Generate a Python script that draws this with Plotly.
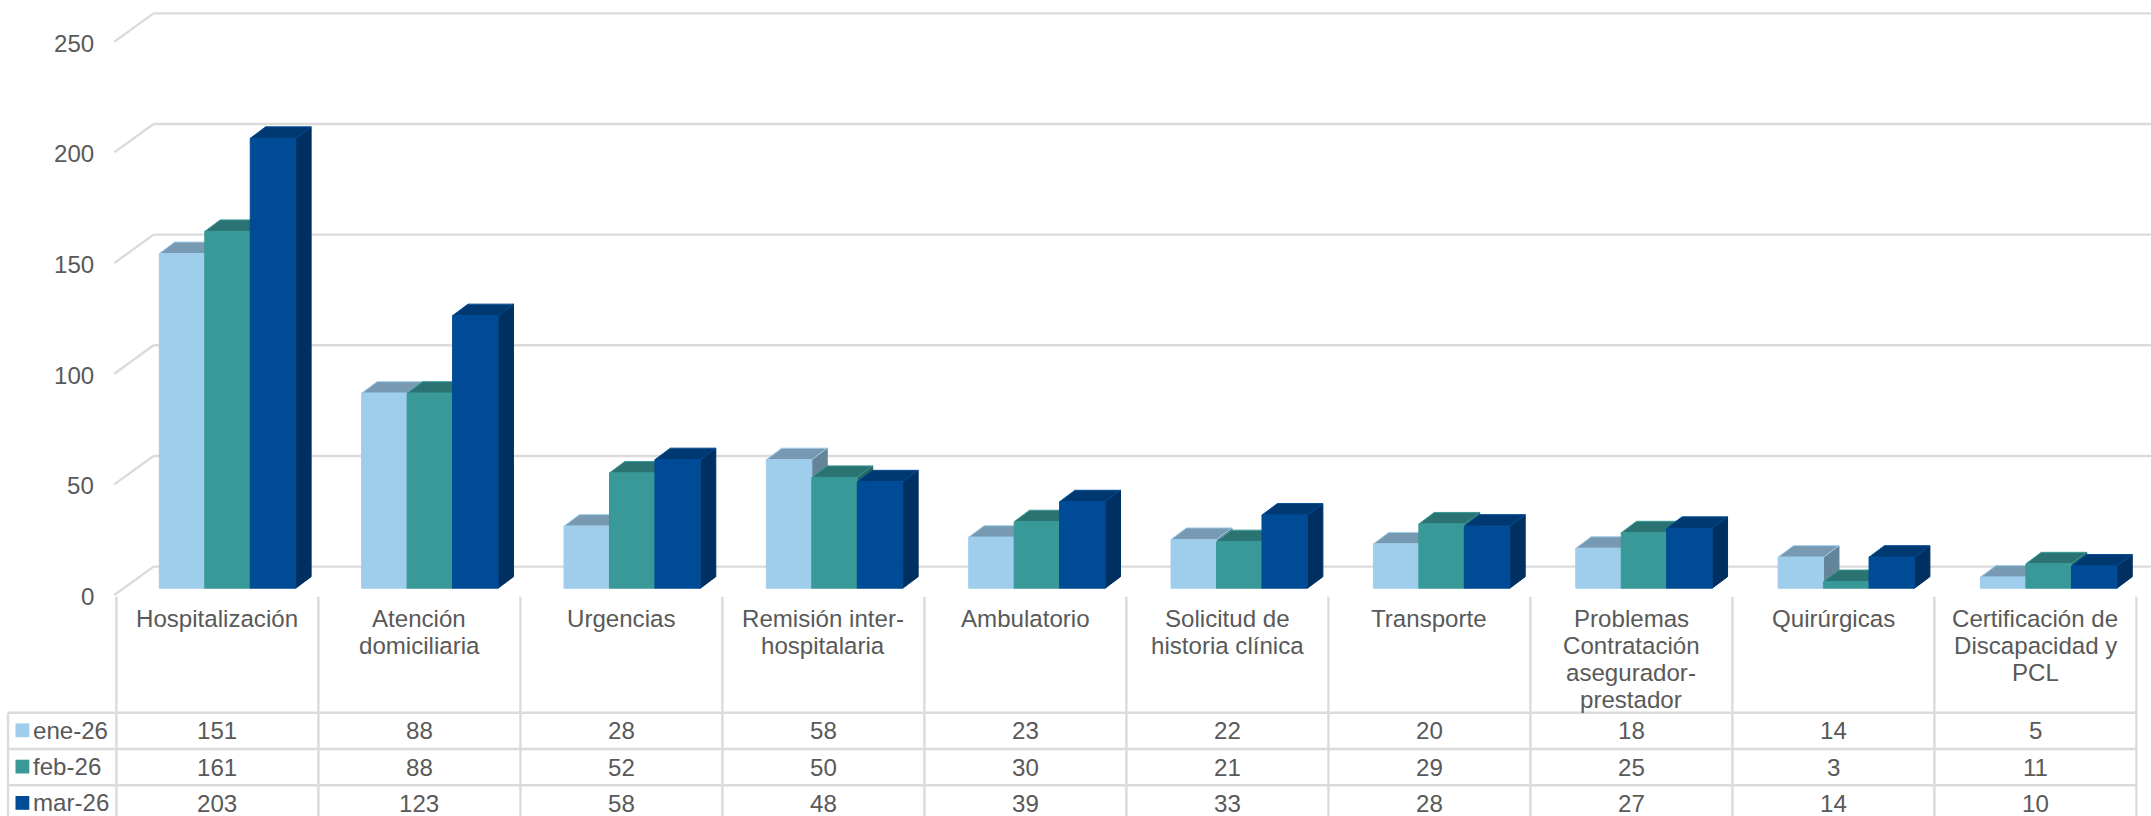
import plotly.graph_objects as go

categories = ["Hospitalización", "Atención\ndomiciliaria", "Urgencias", "Remisión inter-\nhospitalaria",
              "Ambulatorio", "Solicitud de\nhistoria clínica", "Transporte",
              "Problemas\nContratación\nasegurador-\nprestador", "Quirúrgicas",
              "Certificación de\nDiscapacidad y\nPCL"]
series_names = ["ene-26", "feb-26", "mar-26"]
ene = [151, 88, 28, 58, 23, 22, 20, 18, 14, 5]
feb = [161, 88, 52, 50, 30, 21, 29, 25, 3, 11]
mar = [203, 123, 58, 48, 39, 33, 28, 27, 14, 10]
series_values = [ene, feb, mar]
y_ticks = [0, 50, 100, 150, 200, 250]

front_colors = ["#9FCDEC", "#399998", "#004B96"]
top_colors = ["#7799B1", "#2B7373", "#003971"]
side_colors = ["#64849A", "#256463", "#003061"]
GRID = "#DBDBDB"
GRID_W = 2.4
TEXT = "#595959"
FONT = "Liberation Sans"
FS = 24.1

W, H = 2151, 816
COL_LEFT, COL_W = 116.4, 202.0
BAR_STEP = 202.35 / COL_W
PX_PER_UNIT = 2.216
GRID_PX_PER_UNIT = 2.213
BASE_PX = 588.2


def x_of(px):
    return (px - COL_LEFT) / COL_W - 0.5


def y_of(px):
    return (BASE_PX - px) / PX_PER_UNIT


def paper_y(px):
    return 1 - px / H


def paper_x(px):
    return px / W


BAR_W = 45.47 / COL_W
BAR_OFF = x_of(159.3)
DX = 15.4 / COL_W
DY = 11.5 / PX_PER_UNIT
GRID_SCALE = GRID_PX_PER_UNIT / PX_PER_UNIT
BACK = y_of(566.6)
FRONT = y_of(595.0)
GRID_X0, GRID_X1 = x_of(114.3), x_of(153.6)

shapes = []
annotations = []
fig = go.Figure()


def line(x0, y0, x1, y1):
    shapes.append(dict(type="line", xref="x", yref="y", x0=x0, y0=y0, x1=x1, y1=y1,
                       line=dict(color=GRID, width=GRID_W), layer="below"))


def poly(points, fill, edge):
    path = "M " + " L ".join(f"{a:.4f} {b:.4f}" for a, b in points) + " Z"
    shapes.append(dict(type="path", xref="x", yref="y", path=path, fillcolor=fill,
                       line=dict(color=edge, width=1), layer="below"))


def text(s, x, y, xref="x", anchor="center", size=FS):
    annotations.append(dict(text=s, x=x, y=y, xref=xref, yref="paper", xanchor=anchor, yanchor="middle",
                            showarrow=False, font=dict(family=FONT, size=size, color=TEXT), borderpad=0))


for t in y_ticks:
    gy = t * GRID_SCALE
    line(GRID_X0, gy + FRONT, GRID_X1, gy + BACK)
    line(GRID_X1, gy + BACK, x_of(W), gy + BACK)
    text(str(t), paper_x(94.6), paper_y(595.0 - GRID_PX_PER_UNIT * t + 1.5), xref="paper", anchor="right")

n = len(categories)
for i in range(n):
    for j, vals in enumerate(series_values):
        v = vals[i]
        x0 = i * BAR_STEP + BAR_OFF + j * BAR_W
        x1 = x0 + BAR_W
        poly([(x1, 0), (x1 + DX, DY), (x1 + DX, v + DY), (x1, v)], side_colors[j], side_colors[j])
        poly([(x0, v), (x0 + DX, v + DY), (x1 + DX, v + DY), (x1, v)], top_colors[j], front_colors[j])

for j, vals in enumerate(series_values):
    fig.add_trace(go.Bar(x=[i * BAR_STEP for i in range(n)], y=vals, name=series_names[j], width=BAR_W,
                         offset=BAR_OFF + j * BAR_W,
                         marker=dict(color=front_colors[j], line=dict(color=front_colors[j], width=1))))

# data table
ROW_TOP = [712.7, 749.0, 785.3]
for k in range(n + 1):
    xk = k - 0.5
    shapes.append(dict(type="line", xref="x", yref="paper", x0=xk, x1=xk, y0=0, y1=paper_y(596.7),
                       line=dict(color=GRID, width=GRID_W)))
shapes.append(dict(type="line", xref="paper", yref="paper", x0=paper_x(8), x1=paper_x(8), y0=0, y1=paper_y(ROW_TOP[0]),
                   line=dict(color=GRID, width=GRID_W)))
for r, top in enumerate(ROW_TOP):
    shapes.append(dict(type="line", xref="paper", yref="paper", x0=paper_x(8), x1=paper_x(COL_LEFT + n * COL_W),
                       y0=paper_y(top), y1=paper_y(top), line=dict(color=GRID, width=GRID_W)))
    shapes.append(dict(type="rect", xref="paper", yref="paper", x0=paper_x(15.5), x1=paper_x(29.3),
                       y0=paper_y(top + 10.7), y1=paper_y(top + 24.5),
                       fillcolor=front_colors[r], line=dict(width=0)))
    text(series_names[r], paper_x(32.4), paper_y(top + 17.6), xref="paper", anchor="left")
    for i, v in enumerate(series_values[r]):
        text(str(v), i, paper_y(top + 18))

for i, label in enumerate(categories):
    for m, part in enumerate(label.split("\n")):
        text(part, i, paper_y(618.2 + m * 27.2))

fig.update_layout(
    width=W, height=H, margin=dict(l=0, r=0, t=0, b=0, pad=0), autosize=False,
    paper_bgcolor="white", plot_bgcolor="white", showlegend=False, barmode="overlay",
    xaxis=dict(range=[x_of(0), x_of(W)], visible=False, fixedrange=True),
    yaxis=dict(range=[y_of(H), y_of(0)], visible=False, fixedrange=True),
    shapes=shapes, annotations=annotations,
)
fig.write_html("out.html", config=dict(displayModeBar=False),
               post_script="document.documentElement.style.overflow='hidden';document.body.style.margin='0';")
